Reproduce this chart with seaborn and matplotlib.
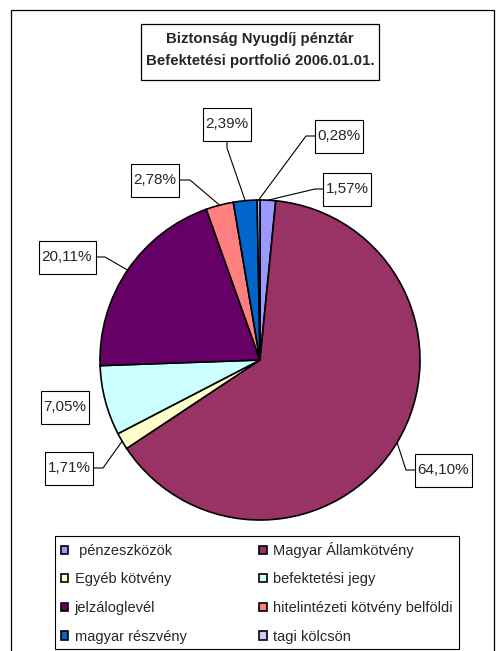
import matplotlib
matplotlib.use("Agg")
import matplotlib.pyplot as plt
from matplotlib.patches import Rectangle
import numpy as np
import seaborn as sns

# data
categories = [" pénzeszközök", "Magyar Államkötvény", "Egyéb kötvény", "befektetési jegy",
              "jelzáloglevél", "hitelintézeti kötvény belföldi", "magyar részvény", "tagi kölcsön"]
shares = [1.57, 64.10, 1.71, 7.05, 20.11, 2.78, 2.39, 0.28]
slice_colors = ["#9999FF", "#993366", "#FFFFCC", "#CCFFFF",
                "#660066", "#FF8080", "#0066CC", "#CCCCFF"]
title = "Biztonság Nyugdíj pénztár\nBefektetési portfolió 2006.01.01."

W, H = 497, 651

# label layout in pixel coords (y down): box centre and leader elbow
label_pos = [(347, 189), (443, 470), (69, 468), (65, 407), (67, 257), (155, 180), (227, 124), (339, 136)]
elbows = [(315, 189), (406, 470), (103, 468), None, (105, 257), (190, 180), (227, 148), (306, 136)]


def Y(y):
    return H - y


sns.set_theme(style="white")
plt.rcParams['font.family'] = ['Liberation Sans', 'DejaVu Sans']
palette = sns.color_palette(slice_colors)

fig = plt.figure(figsize=(W / 100, H / 100), dpi=100)
ax = fig.add_axes([0, 0, 1, 1])

cx, cy, r = 260, Y(360), 160
wedges, _ = ax.pie(shares, colors=palette, startangle=90, counterclock=False,
                   center=(cx, cy), radius=r,
                   wedgeprops=dict(edgecolor="black", linewidth=1.2))

ax.set_xlim(0, W)
ax.set_ylim(0, H)
ax.set_aspect("equal")
ax.axis("off")

# outer frame and title box
ax.add_patch(Rectangle((11, Y(700)), 483, 690, fill=False, edgecolor="black", lw=0.9, zorder=1))
ax.add_patch(Rectangle((141, Y(80)), 238, 56, facecolor="white", edgecolor="black", lw=0.9, zorder=3))
ax.text(260, Y(50), title, ha="center", va="center", fontsize=10.8, fontweight="bold",
        linespacing=1.8, zorder=4)

# percentage labels with leader lines
for w, v, (lx, ly), elbow in zip(wedges, shares, label_pos, elbows):
    mid = np.deg2rad((w.theta1 + w.theta2) / 2)
    ex, ey = cx + r * np.cos(mid), cy + r * np.sin(mid)
    if elbow is not None:
        ax.plot([ex, elbow[0], lx], [ey, Y(elbow[1]), Y(ly)], color="black", lw=0.8, zorder=2)
    txt = f"{v:.2f}".replace(".", ",") + "%"
    bw = 9 * len(txt) + 3
    ax.add_patch(Rectangle((lx - bw / 2, Y(ly) - 16.5), bw, 33, facecolor="white",
                           edgecolor="black", lw=0.8, zorder=3))
    ax.text(lx, Y(ly), txt, ha="center", va="center", fontsize=11, zorder=4)

# legend, row-major order
order = [0, 2, 4, 6, 1, 3, 5, 7]
leg = ax.legend([wedges[i] for i in order], [categories[i] for i in order],
                loc="upper left", bbox_to_anchor=(55, Y(536)), bbox_transform=ax.transData,
                ncol=2, frameon=True, fancybox=False, edgecolor="black", framealpha=1,
                borderaxespad=0, borderpad=0.4, handlelength=0.5, handleheight=0.5,
                handletextpad=0.45, labelspacing=1.0, columnspacing=5.0, fontsize=10.5)
leg.get_frame().set_linewidth(0.8)
leg.set_zorder(5)

fig.savefig("out.png", dpi=100)
